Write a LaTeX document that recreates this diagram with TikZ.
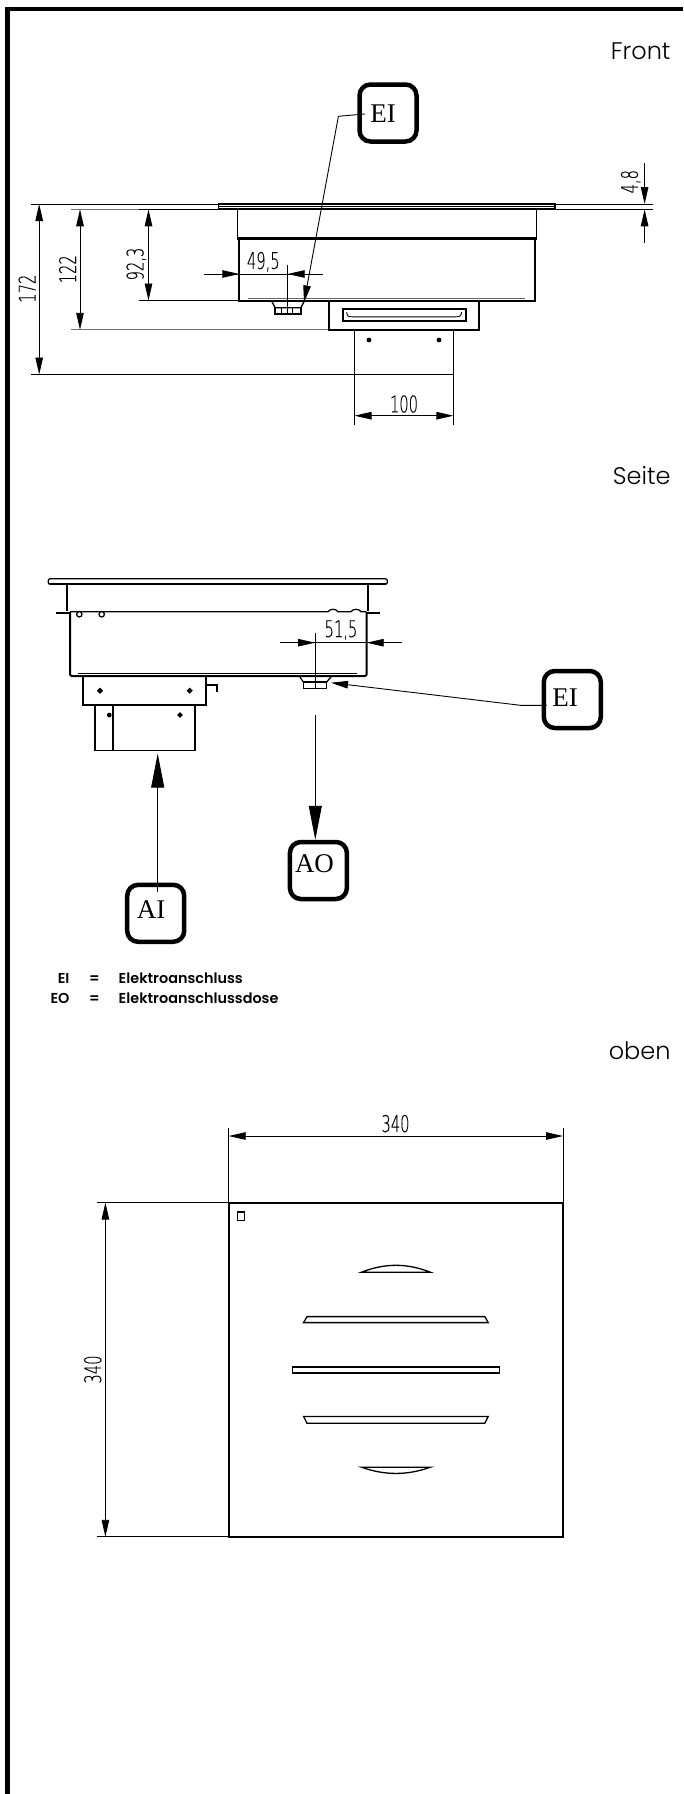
\documentclass[tikz,border=0pt]{standalone}
\usepackage{fontspec}
\usepackage{tikz}
\usetikzlibrary{arrows.meta}
\setmainfont{Liberation Serif}
\newfontfamily\viewfont{Poppins Light}
\newfontfamily\legendfont{Poppins SemiBold}
\newfontfamily\dimfont[FakeStretch=0.64,FakeBold=0.15]{DejaVu Sans ExtraLight}
\tikzset{
    dimline/.style={line width=0.9pt, {Triangle[length=17pt,width=7.5pt]}-{Triangle[length=17pt,width=7.5pt]}},
    tipline/.style={line width=0.9pt, -{Triangle[length=17pt,width=7.5pt]}},
    bigtip/.style={line width=0.9pt, -{Triangle[length=34pt,width=13pt]}},
    helpline/.style={line width=0.9pt},
    greyline/.style={line width=0.9pt, black!55},
    part/.style={line width=1.3pt},
    boldpart/.style={line width=2pt},
    tagbox/.style={draw, line width=4.5pt, rounded corners=11pt, minimum width=57pt, minimum height=57pt, inner sep=0pt, fill=white},
    tagtext/.style={inner sep=0pt, font=\fontsize{27}{27}\selectfont},
    dimtext/.style={inner sep=0pt, font=\dimfont\fontsize{23}{23}\selectfont},
    viewtext/.style={inner sep=0pt, anchor=east, font=\viewfont\fontsize{24}{24}\selectfont},
    legendtext/.style={inner sep=0pt, font=\legendfont\fontsize{14.4}{14.4}\selectfont}
}
\begin{document}
\begin{tikzpicture}[x=1pt, y=-1pt]
    \useasboundingbox (0, 0) rectangle (683, 1794);
    % frame
    \draw[line width=4.5pt] (7.3, 1794) -- (7.3, 8.9) -- (683, 8.9);
    % titles
    \node[viewtext] (front) at (670.7, 51.7) {Front};
    \node[viewtext] (seite) at (670.7, 475.5) {Seite};
    \node[viewtext] (oben) at (670.7, 1050.6) {oben};

    % front view
    \draw[greyline] (71, 209.3) -- (218, 209.3);
    \draw[greyline] (71, 329.8) -- (329, 329.8);
    \draw[helpline] (30.5, 204) -- (218, 204) (139.4, 209.3) -- (218, 209.3) (139.4, 300.5) -- (239, 300.5) (30.5, 374.5) -- (354.5, 374.5);
    \draw[helpline] (555, 204) -- (653, 204) (555, 209.3) -- (653, 209.3);
    \draw[part] (218.3, 204) rectangle (555, 209.3);
    \draw[helpline] (218.3, 206.6) -- (555, 206.6);
    \draw[boldpart] (218.3, 209.3) -- (555, 209.3);
    \draw[part] (237.4, 209.3) -- (237.4, 237.7) (536.6, 209.3) -- (536.6, 237.7);
    \draw[line width=3.6pt] (237.4, 238.5) -- (536.6, 238.5);
    \draw[boldpart] (239.3, 238.5) -- (239.3, 300.7) -- (535, 300.7) -- (535, 238.5);
    \draw[helpline, black!60] (248, 298.3) -- (525, 298.3);
    \draw[part] (271.7, 301) -- (275, 307.7) -- (301, 307.7) -- (304.3, 301);
    \draw[part] (275, 307.7) rectangle (301, 314);
    \draw[helpline] (281.7, 307.7) -- (281.7, 314) (292.7, 307.7) -- (292.7, 314);
    \draw[boldpart] (329, 300.7) rectangle (479.3, 329.8);
    \draw[boldpart] (342.7, 309.3) rectangle (466, 320.7);
    \draw[helpline] (346.7, 312) .. controls (347, 316) and (348, 316.8) .. (352, 316.8) -- (456, 316.8) .. controls (460, 316.8) and (461, 316) .. (461.7, 312);
    \draw[part] (354.5, 329.8) -- (354.5, 374.5) -- (453.4, 374.5) -- (453.4, 329.8);
    \fill (369, 340) circle (2.4pt) (439, 340) circle (2.4pt);
    \draw[helpline] (354.5, 374.5) -- (354.5, 425) (453.4, 374.5) -- (453.4, 425);
    \draw[helpline] (287.7, 265) -- (287.7, 313.3);

    % front dimensions
    \draw[dimline] (39.2, 204) -- (39.2, 374.5);
    \node[dimtext, rotate=90] (d172) at (27, 288.7) {172};
    \draw[dimline] (80, 209.3) -- (80, 329.8);
    \node[dimtext, rotate=90] (d122) at (67.5, 269.3) {122};
    \draw[dimline] (148.5, 209.3) -- (148.5, 300.5);
    \node[dimtext, rotate=90] (d923) at (136.3, 264) {92,3};
    \draw[dimline] (354.5, 415.7) -- (453.4, 415.7);
    \node[dimtext] (d100) at (404, 404) {100};
    \draw[helpline] (204, 274) -- (322.7, 274);
    \draw[tipline] (204, 274) -- (239.3, 274);
    \draw[tipline] (322.7, 274) -- (287.7, 274);
    \node[dimtext] (d495) at (263.3, 261.7) {49,5};
    \draw[tipline] (644.6, 163) -- (644.6, 204);
    \draw[tipline] (644.6, 243.3) -- (644.6, 209.3);
    \node[dimtext, rotate=90] (d48) at (630.7, 181.7) {4,8};

    % front tag
    \coordinate (eitip) at (304, 302.5);
    \node[tagbox] (eia) at (388, 113) {};
    \node[tagtext] (eiatext) at (383, 114) {EI};
    \draw[tipline] ([xshift=7.5pt]eia.west |- eiatext.west) -- (338.4, 116.3) -- (eitip);

    % side view
    \draw[part, rounded corners=2pt] (48.3, 578.7) rectangle (387.3, 584.3);
    \draw[boldpart] (50, 584.3) -- (386, 584.3);
    \draw[boldpart] (67.3, 584.3) -- (67.3, 611);
    \draw[boldpart] (368.3, 584.3) -- (368.3, 611);
    \draw[boldpart, rounded corners=2pt] (70, 612) -- (70, 676) -- (366.7, 676) -- (366.7, 612);
    \draw[helpline] (78.3, 673.3) -- (356.7, 673.3);
    \draw[part] (70, 611.7) -- (328, 611.7) .. controls (330, 608.5) and (336, 608.5) .. (338, 611.7) -- (351, 611.7) .. controls (353, 608.5) and (359, 608.5) .. (361, 611.7) -- (366.7, 611.7);
    \draw[line width=2.6pt] (56, 613) -- (70, 613) (366.7, 613) -- (380, 613);
    \draw[part, fill=white] (79.3, 614.3) circle (2.7pt) (101.7, 614.3) circle (2.7pt);
    \draw[boldpart] (83.3, 676) -- (83.3, 705) -- (206, 705) -- (206, 676);
    \draw[line width=1.8pt] (100, 690.7) circle (1.8pt) (189.7, 690.7) circle (1.8pt);
    \draw[boldpart] (206, 685) -- (216.7, 685) -- (216.7, 691.7);
    \draw[part] (95, 705) -- (95, 750.3) -- (195, 750.3) -- (195, 705);
    \draw[boldpart] (113.3, 705) -- (113.3, 750.3);
    \fill (109.3, 715) circle (2.4pt);
    \draw[line width=1.8pt] (180, 715) circle (1.5pt);
    \draw[part] (299.3, 676) -- (303.3, 682) -- (326.7, 682) -- (331.7, 676);
    \draw[part] (303.3, 682) rectangle (326.7, 688.7);
    \draw[helpline] (315, 633.3) -- (315, 688.3);

    % side dimension
    \draw[helpline] (280, 642.7) -- (401.7, 642.7);
    \draw[tipline] (280, 642.7) -- (315, 642.7);
    \draw[tipline] (401.7, 642.7) -- (366.7, 642.7);
    \node[dimtext] (d515) at (341, 630) {51,5};

    % side tags
    \coordinate (eiend) at (331, 682.7);
    \coordinate (aotail) at (315.3, 714.7);
    \coordinate (aitip) at (157.7, 753.6);
    \node[tagbox] (eib) at (572.3, 699.5) {};
    \node[tagtext] (eibtext) at (565, 698) {EI};
    \draw[tipline] ([xshift=5pt]eib.west |- 0, 705.3) -- (520.5, 705.3) -- (eiend);
    \node[tagbox] (ao) at (318.4, 870.5) {};
    \node[tagtext] (aotext) at (314.5, 863.8) {AO};
    \draw[bigtip] (aotail) -- (aotail |- ao.north);
    \node[tagbox] (ai) at (155.7, 913.3) {};
    \node[tagtext] (aitext) at (151, 910) {AI};
    \draw[bigtip] (aitip |- 0, 891.8) -- (aitip);

    % legend
    \node[legendtext, anchor=east] (lei) at (69.7, 978) {EI};
    \node[legendtext] (leq) at (94.5, 979.5) {=};
    \node[legendtext, anchor=west] (ltext) at (118.5, 978) {Elektroanschluss};
    \node[legendtext, anchor=east] (leo) at (69.7, 998) {EO};
    \node[legendtext] (loq) at (94.5, 999.5) {=};
    \node[legendtext, anchor=west] (otext) at (118.5, 998) {Elektroanschlussdose};

    % top view
    \draw[boldpart] (228.7, 1202.6) rectangle (563, 1536.8);
    \draw[helpline] (228.7, 1127.6) -- (228.7, 1202.6) (563, 1127.6) -- (563, 1202.6);
    \draw[helpline] (96.7, 1202.6) -- (228.7, 1202.6) (96.7, 1536.8) -- (228.7, 1536.8);
    \draw[dimline] (228.7, 1136) -- (563, 1136);
    \node[dimtext] (dtop) at (395.5, 1123.6) {340};
    \draw[dimline] (105.4, 1202.6) -- (105.4, 1536.8);
    \node[dimtext, rotate=90] (dleft) at (92.8, 1369.5) {340};
    \draw[part] (237.8, 1212) rectangle (244.3, 1220.4);
    \draw[part] (361.5, 1272.2) .. controls (385, 1263) and (407, 1263) .. (430.3, 1272.2) -- cycle;
    \draw[part] (307, 1316.6) -- (484.8, 1316.6) -- (488.2, 1322.6) -- (303.6, 1322.6) -- cycle;
    \draw[part] (292.2, 1367) rectangle (499.6, 1373);
    \draw[part] (303.6, 1416.4) -- (488.2, 1416.4) -- (484.8, 1423.3) -- (307, 1423.3) -- cycle;
    \draw[part] (361.5, 1467.2) .. controls (385, 1475.5) and (407, 1475.5) .. (430.3, 1467.2) -- cycle;
\end{tikzpicture}
\end{document}
